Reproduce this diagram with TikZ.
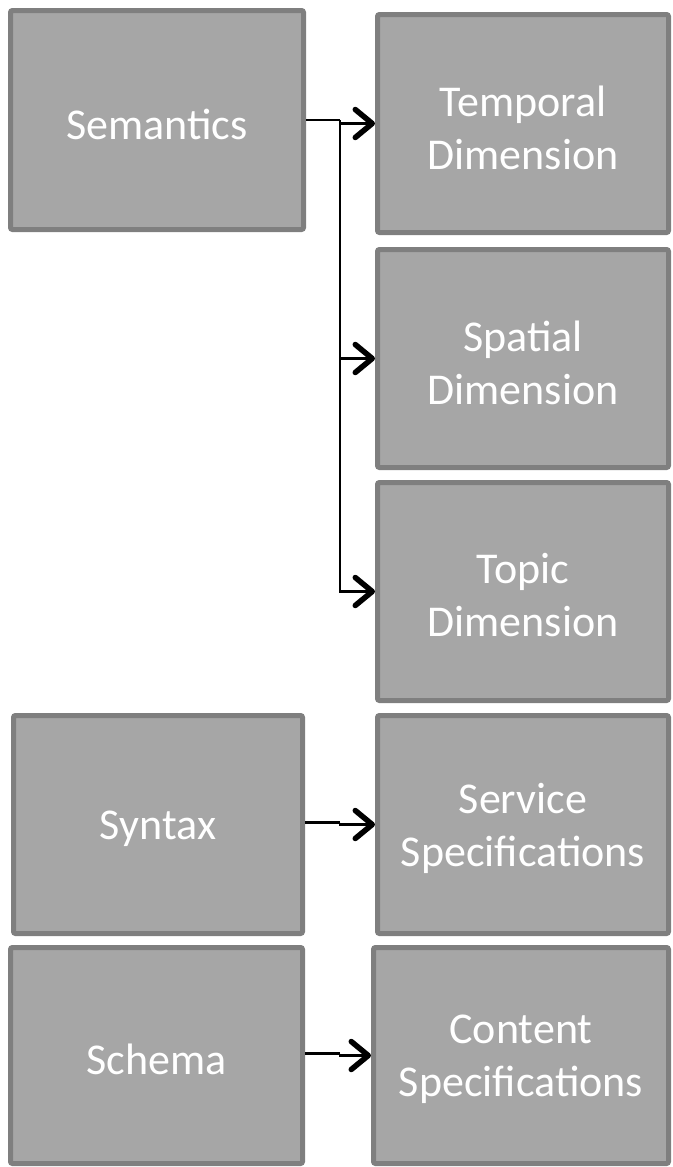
\documentclass[tikz,border=0pt]{standalone}
\usepackage{fontspec}
\setmainfont{Carlito}
\usetikzlibrary{arrows.meta}
\definecolor{boxfill}{HTML}{A6A6A6}
\definecolor{boxline}{HTML}{7F7F7F}
\begin{document}
\begin{tikzpicture}[x=1pt,y=-1pt,
  box/.style={draw=boxline, fill=boxfill, line width=5pt, rounded corners=2pt, inner sep=0pt},
  lbl/.style={text=white, align=center, inner sep=0pt, font=\fontsize{44}{53}\selectfont},
  conn/.style={line width=2.7pt, black},
  arr/.style={conn, -{Straight Barb[length=17pt,width=28pt,line width=5.5pt,round]}}]
\useasboundingbox (0,0) rectangle (672,1167);
\node[box, minimum width=293pt, minimum height=219pt] (sem) at (157,120) {};
\node[box, minimum width=291pt, minimum height=218pt] (tmp) at (523,123.5) {};
\node[box, minimum width=291pt, minimum height=218pt] (spa) at (523,358.5) {};
\node[box, minimum width=291pt, minimum height=218pt] (top) at (523,591.5) {};
\node[box, minimum width=289pt, minimum height=218pt] (syn) at (158,824.5) {};
\node[box, minimum width=291pt, minimum height=218pt] (svc) at (523,824.5) {};
\node[box, minimum width=292pt, minimum height=216pt] (sch) at (156.5,1055.5) {};
\node[box, minimum width=295pt, minimum height=216pt] (con) at (521,1055.5) {};
\node[lbl] (tsem) at ([yshift=-4pt]sem.center) {Semantics};
\node[lbl] (ttmp) at ([yshift=-4pt]tmp.center) {Temporal\\Dimension};
\node[lbl] (tspa) at ([yshift=-4pt]spa.center) {Spatial\\Dimension};
\node[lbl] (ttop) at ([yshift=-4pt]top.center) {Topic\\Dimension};
\node[lbl] (tsyn) at ([yshift=-4pt]syn.center) {Syntax};
\node[lbl] (tsvc) at ([yshift=-4pt]svc.center) {Service\\Specifications};
\node[lbl] (tsch) at ([yshift=-4pt]sch.center) {Schema};
\node[lbl] (tcon) at ([yshift=-4pt]con.center) {Content\\Specifications};
\coordinate (j) at (340,120);
\draw[conn] (sem.east) -- (j);
\draw[arr] (j) |- (tmp.west);
\draw[arr] (j) |- (spa.west);
\draw[arr] (j) |- (top.west);
\coordinate (j2) at (340,822.5);
\draw[conn] (syn.east |- j2) -- (j2);
\draw[arr] (j2) |- (svc.west);
\coordinate (j3) at (340,1053.5);
\draw[conn] (sch.east |- j3) -- (j3);
\draw[arr] (j3) |- (con.west);
\end{tikzpicture}
\end{document}
